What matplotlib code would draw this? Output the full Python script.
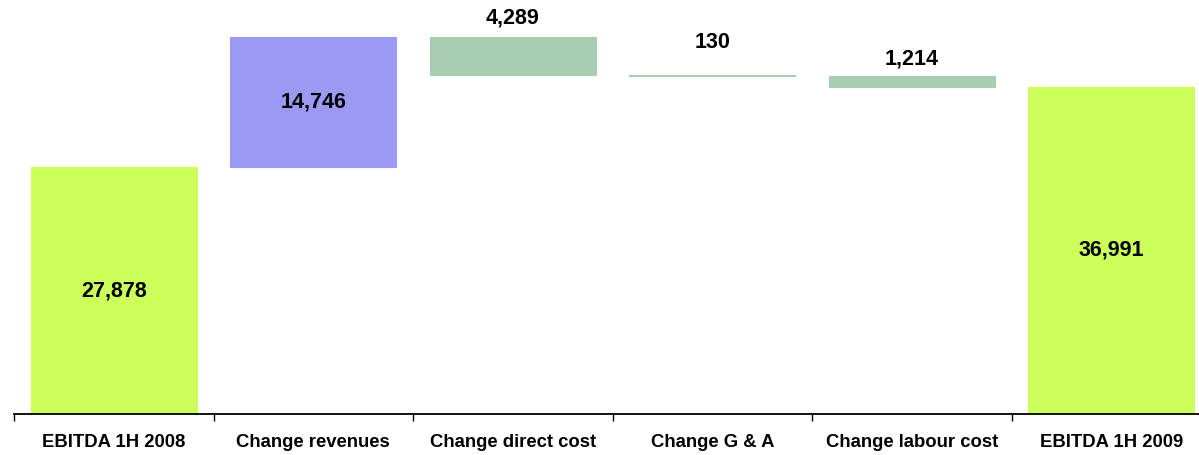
import matplotlib
matplotlib.use("Agg")
import matplotlib.pyplot as plt
import numpy as np

categories = ["EBITDA 1H 2008", "Change revenues", "Change direct cost",
              "Change G & A", "Change labour cost", "EBITDA 1H 2009"]
changes = [27878, 14746, -4289, -130, -1214, 36991]
kinds = ["total", "delta", "delta", "delta", "delta", "total"]
value_labels = ["27,878", "14,746", "4,289", "130", "1,214", "36,991"]

colors = ["#CCFF5A", "#9C99F5", "#A8CDB3", "#A8CDB3", "#A8CDB3", "#CCFF5A"]
label_above_px = [None, None, 19, 32, 17, None]

plt.rcParams['font.family'] = ['Liberation Sans', 'DejaVu Sans']

fig = plt.figure(figsize=(11.99, 4.55), dpi=100)
ax = fig.add_axes([14 / 1199, 41 / 455, 1197 / 1199, 414 / 455])

x = np.arange(len(categories))
bottoms, heights = [], []
running = 0
for c, k in zip(changes, kinds):
    if k == "total":
        bottoms.append(0)
        heights.append(c)
        running = c
    else:
        if c >= 0:
            bottoms.append(running)
            heights.append(c)
        else:
            bottoms.append(running + c)
            heights.append(-c)
        running += c

ax.bar(x, heights, bottom=bottoms, width=0.83, color=colors, edgecolor=colors,
       linewidth=0.8)

for i in range(len(categories)):
    if label_above_px[i] is None:
        ax.text(x[i], bottoms[i] + heights[i] / 2, value_labels[i],
                ha="center", va="center", fontsize=15.5, fontweight="bold")
    else:
        ax.annotate(value_labels[i], (x[i], bottoms[i] + heights[i]),
                    xytext=(0, label_above_px[i] * 0.72), textcoords="offset points",
                    ha="center", va="center", fontsize=15.5, fontweight="bold")

ax.set_xlim(-0.5, len(categories) - 0.5)
ax.set_ylim(0, 46800)
ax.set_yticks([])
for s in ["top", "right", "left"]:
    ax.spines[s].set_visible(False)
ax.spines["bottom"].set_linewidth(1.3)
ax.set_xticks(np.arange(-0.5, len(categories), 1.0))
ax.set_xticklabels([])
ax.tick_params(axis="x", length=5, width=1, direction="out")
ax.set_xticks(x, minor=True)
ax.set_xticklabels(categories, minor=True, fontsize=13.3, fontweight="bold")
ax.tick_params(axis="x", which="minor", length=0, pad=14.5)

fig.savefig("out.png", dpi=100)
